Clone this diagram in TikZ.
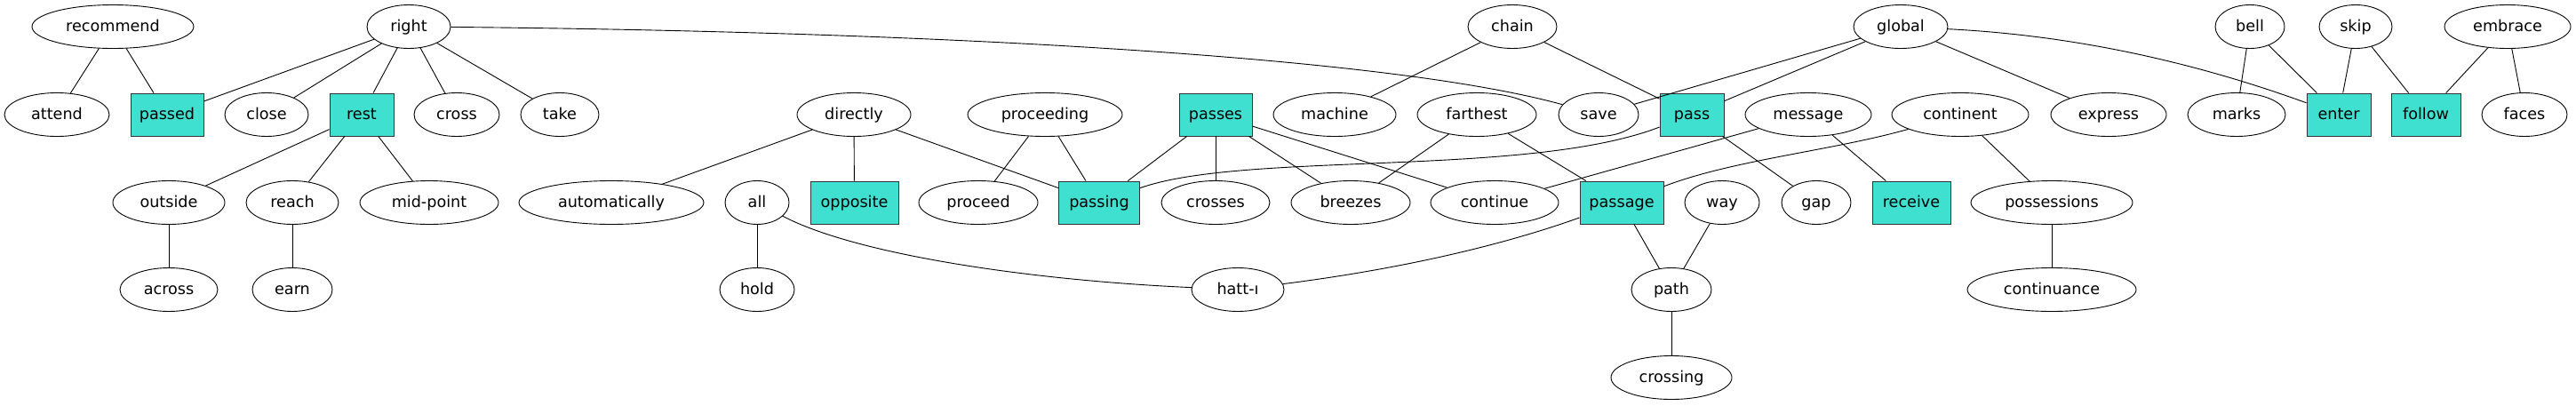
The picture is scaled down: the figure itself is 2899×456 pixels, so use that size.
\documentclass[tikz,border=0pt]{standalone}
\usepackage{fontspec}
\setmainfont{DejaVu Sans}
\usetikzlibrary{shapes.geometric}
\definecolor{turq}{HTML}{40E0D0}
\definecolor{boxline}{HTML}{333333}
\tikzset{
  base/.style={inner sep=0pt, line width=0.9pt, text height=14pt, text depth=3pt,
    font=\fontsize{17.6}{20}\selectfont},
  el/.style={base, ellipse, draw, minimum height=49pt},
  bx/.style={base, rectangle, draw=boxline, fill=turq, minimum height=48pt},
  ed/.style={line width=0.9pt}
}
\begin{document}
\begin{tikzpicture}[x=1pt,y=-1pt]
\useasboundingbox (0,0) rectangle (2899,456);
% row 1
\node[el, minimum width=182pt] (recommend) at (127,30) {recommend};
\node[el, minimum width=94pt] (right) at (460,30) {right};
\node[el, minimum width=100pt] (chain) at (1702,30) {chain};
\node[el, minimum width=106pt] (global) at (2139,30) {global};
\node[el, minimum width=78pt] (bell) at (2532,30) {bell};
\node[el, minimum width=82pt] (skip) at (2651,30) {skip};
\node[el, minimum width=142pt] (embrace) at (2822,30) {embrace};
% row 2
\node[el, minimum width=118pt] (attend) at (64,129) {attend};
\node[bx, minimum width=82pt] (passed) at (188,129) {passed};
\node[el, minimum width=94pt] (close) at (300,129) {close};
\node[bx, minimum width=72pt] (rest) at (407,129) {rest};
\node[el, minimum width=96pt] (cross) at (514,129) {cross};
\node[el, minimum width=88pt] (take) at (630,129) {take};
\node[el, minimum width=128pt] (directly) at (961,129) {directly};
\node[el, minimum width=174pt] (proceeding) at (1176,129) {proceeding};
\node[bx, minimum width=82pt] (passes) at (1368,129) {passes};
\node[el, minimum width=138pt] (machine) at (1502,129) {machine};
\node[el, minimum width=134pt] (farthest) at (1662,129) {farthest};
\node[el, minimum width=90pt] (save) at (1799,129) {save};
\node[bx, minimum width=72pt] (pass) at (1904,129) {pass};
\node[el, minimum width=142pt] (message) at (2035,129) {message};
\node[el, minimum width=154pt] (continent) at (2206,129) {continent};
\node[el, minimum width=130pt] (express) at (2373,129) {express};
\node[el, minimum width=110pt] (marks) at (2517,129) {marks};
\node[bx, minimum width=72pt] (enter) at (2632,129) {enter};
\node[bx, minimum width=78pt] (follow) at (2730,129) {follow};
\node[el, minimum width=96pt] (faces) at (2841,129) {faces};
% row 3
\node[el, minimum width=126pt] (outside) at (190,228) {outside};
\node[el, minimum width=104pt] (reach) at (329,228) {reach};
\node[el, minimum width=156pt] (midpoint) at (483,228) {mid-point};
\node[el, minimum width=208pt] (automatically) at (688,228) {automatically};
\node[el, minimum width=72pt] (all) at (852,228) {all};
\node[bx, minimum width=99pt] (opposite) at (961.5,228) {opposite};
\node[el, minimum width=134pt] (proceed) at (1101,228) {proceed};
\node[bx, minimum width=91pt] (passing) at (1237,228) {passing};
\node[el, minimum width=122pt] (crosses) at (1368,228) {crosses};
\node[el, minimum width=134pt] (breezes) at (1520,228) {breezes};
\node[el, minimum width=144pt] (continue) at (1682,228) {continue};
\node[bx, minimum width=94pt] (passage) at (1825,228) {passage};
\node[el, minimum width=84pt] (way) at (1938,228) {way};
\node[el, minimum width=78pt] (gap) at (2044,228) {gap};
\node[bx, minimum width=88pt] (receive) at (2151,228) {receive};
\node[el, minimum width=182pt] (possessions) at (2309,228) {possessions};
% row 4
\node[el, minimum width=110pt] (across) at (190,326) {across};
\node[el, minimum width=90pt] (earn) at (329,326) {earn};
\node[el, minimum width=84pt] (hold) at (852,326) {hold};
\node[el, minimum width=104pt] (hatt) at (1393,326) {hatt-ı};
\node[el, minimum width=90pt] (path) at (1881,326) {path};
\node[el, minimum width=190pt] (continuance) at (2309,326) {continuance};
% row 5
\node[el, minimum width=136pt] (crossing) at (1881,425) {crossing};
% edges
\draw[ed] (recommend) -- (attend);
\draw[ed] (recommend) -- (passed);
\draw[ed] (right) -- (passed);
\draw[ed] (right) -- (close);
\draw[ed] (right) -- (rest);
\draw[ed] (right) -- (cross);
\draw[ed] (right) -- (take);
\draw[ed] (right) .. controls (1000,35) and (1550,60) .. (save);
\draw[ed] (rest) -- (outside);
\draw[ed] (rest) -- (reach);
\draw[ed] (rest) -- (midpoint);
\draw[ed] (outside) -- (across);
\draw[ed] (reach) -- (earn);
\draw[ed] (directly) -- (automatically);
\draw[ed] (directly) -- (opposite);
\draw[ed] (directly) -- (passing);
\draw[ed] (proceeding) -- (proceed);
\draw[ed] (proceeding) -- (passing);
\draw[ed] (passes) -- (passing);
\draw[ed] (passes) -- (crosses);
\draw[ed] (passes) -- (breezes);
\draw[ed] (passes) -- (continue);
\draw[ed] (passing) .. controls (1400,170) and (1720,200) .. (pass);
\draw[ed] (all) -- (hold);
\draw[ed] (all) .. controls (960,285) and (1150,315) .. (hatt);
\draw[ed] (passage) .. controls (1680,280) and (1560,305) .. (hatt);
\draw[ed] (farthest) -- (breezes);
\draw[ed] (farthest) -- (passage);
\draw[ed] (chain) -- (machine);
\draw[ed] (chain) -- (pass);
\draw[ed] (global) -- (save);
\draw[ed] (global) -- (pass);
\draw[ed] (global) -- (express);
\draw[ed] (global) .. controls (2318,39) and (2453,64) .. (enter);
\draw[ed] (message) -- (continue);
\draw[ed] (message) -- (receive);
\draw[ed] (pass) -- (gap);
\draw[ed] (continent) .. controls (2060,170) and (1950,180) .. (passage);
\draw[ed] (continent) -- (possessions);
\draw[ed] (passage) -- (path);
\draw[ed] (way) -- (path);
\draw[ed] (path) -- (crossing);
\draw[ed] (possessions) -- (continuance);
\draw[ed] (bell) -- (marks);
\draw[ed] (bell) -- (enter);
\draw[ed] (skip) -- (enter);
\draw[ed] (skip) -- (follow);
\draw[ed] (embrace) -- (follow);
\draw[ed] (embrace) -- (faces);
\end{tikzpicture}
\end{document}
